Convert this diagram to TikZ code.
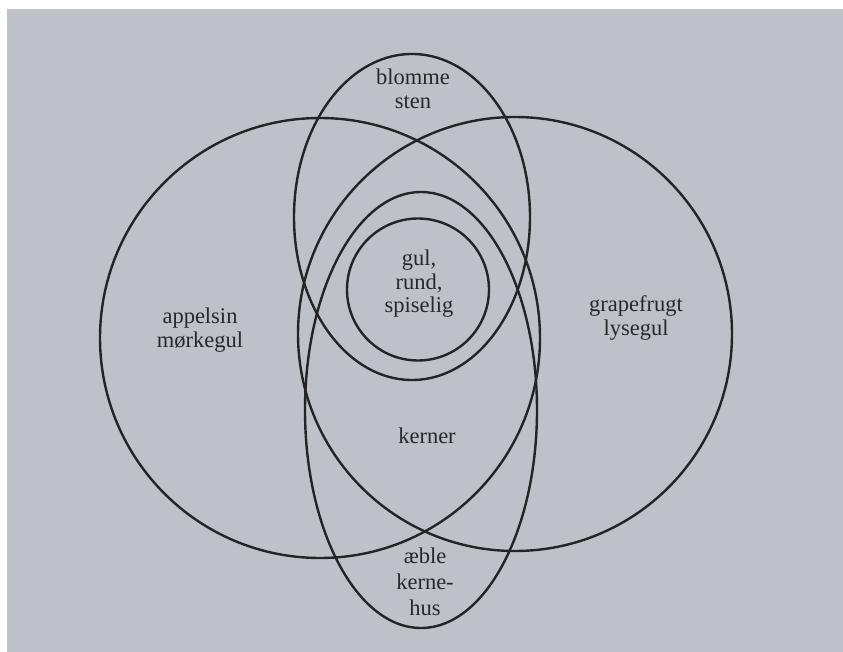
\documentclass[tikz,border=0pt]{standalone}
\usepackage{fontspec}
\setmainfont{Liberation Serif}
\definecolor{paper}{RGB}{190,193,199}
\definecolor{ink}{RGB}{36,36,38}
\definecolor{txt}{RGB}{40,40,43}
\tikzset{
  setline/.style={draw=ink, line width=2.4pt},
  lbl/.style={text=txt, align=center, inner sep=0pt, font=\fontsize{22.5}{23.5}\selectfont},
}
\begin{document}
\begin{tikzpicture}[x=1pt,y=-1pt]
\useasboundingbox (0,0) rectangle (843,652);
\fill[white] (0,0) rectangle (843,652);
\fill[paper] (7,9) rectangle (843,652);
% sets
\draw[setline] (320,338) circle [radius=220pt];
\draw[setline] (515,334) circle [radius=217pt];
\draw[setline] (412,217) ellipse [x radius=118pt, y radius=163pt];
\draw[setline] (421,410) ellipse [x radius=116pt, y radius=218pt];
\draw[setline] (418,289.5) circle [radius=71pt];
% labels
\node[lbl] (blomme) at (413,89) {blomme\\sten};
\node[lbl] (gul) at (419,284) {gul,\\rund,\\spiselig};
\node[lbl] (appelsin) at (200,330) {appelsin\\mørkegul};
\node[lbl] (grape) at (636,318) {grapefrugt\\lysegul};
\node[lbl] (kerner) at (427,436) {kerner};
\node[lbl, font=\fontsize{22.5}{26}\selectfont] (aeble) at (425,582) {æble\\kerne-\\hus};
\end{tikzpicture}
\end{document}
